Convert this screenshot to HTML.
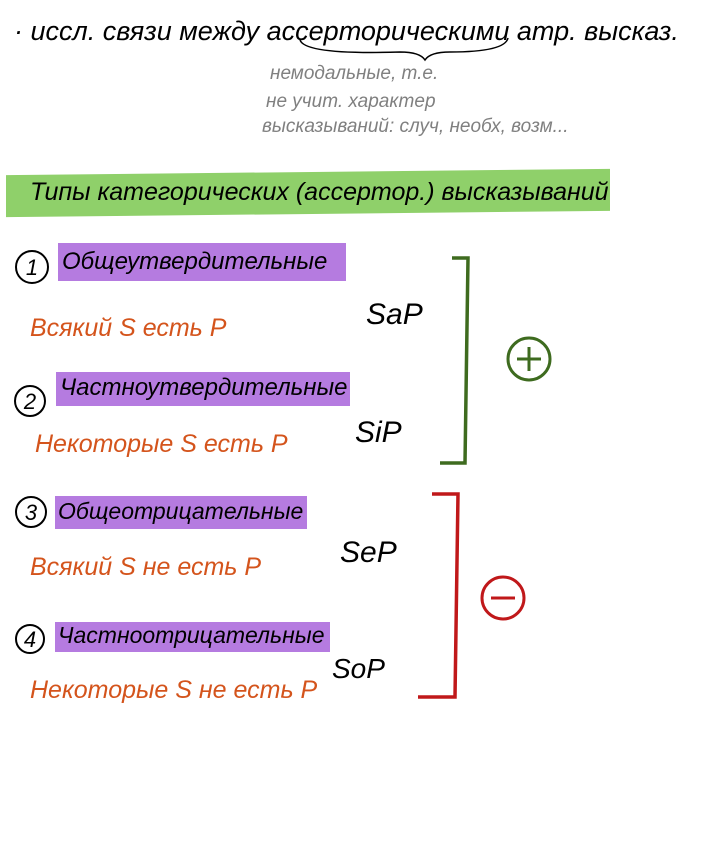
<!DOCTYPE html>
<html><head><meta charset="utf-8"><style>
html,body{margin:0;padding:0;background:#fff;}
body{width:718px;height:865px;position:relative;overflow:hidden;font-family:"Liberation Sans","DejaVu Sans",sans-serif;font-style:italic;}
.t{position:absolute;white-space:nowrap;line-height:1;}
.band{position:absolute;}
.o{color:#d4541c;font-size:25px;}
.k{color:#000;}
.g{color:#808080;font-size:19px;}
</style></head><body>
<div class="t k" style="left:14px;top:18px;font-size:27px;letter-spacing:0px;">· иссл. связи между ассерторическими атр. высказ.</div>
<div class="t g" style="left:270px;top:64px;">немодальные, т.е.</div>
<div class="t g" style="left:266px;top:92px;">не учит. характер</div>
<div class="t g" style="left:262px;top:117px;">высказываний: случ, необх, возм...</div>

<div class="band" style="left:6px;top:172px;width:604px;height:42px;background:#8fd06a;transform:skewY(-0.6deg);"></div>
<div class="t k" style="left:30px;top:180px;font-size:25px;">Типы категорических (ассертор.) высказываний</div>

<div class="band" style="left:58px;top:243px;width:288px;height:38px;background:#b57be0;"></div>
<div class="t k" style="left:62px;top:250px;font-size:24px;">Общеутвердительные</div>
<div class="band" style="left:56px;top:372px;width:294px;height:34px;background:#b57be0;"></div>
<div class="t k" style="left:60px;top:376px;font-size:24px;">Частноутвердительные</div>
<div class="band" style="left:55px;top:496px;width:252px;height:33px;background:#b57be0;"></div>
<div class="t k" style="left:58px;top:500px;font-size:23px;">Общеотрицательные</div>
<div class="band" style="left:55px;top:622px;width:275px;height:30px;background:#b57be0;"></div>
<div class="t k" style="left:58px;top:624px;font-size:23px;">Частноотрицательные</div>

<div class="t o" style="left:30px;top:316px;">Всякий S есть P</div>
<div class="t o" style="left:35px;top:432px;">Некоторые S есть P</div>
<div class="t o" style="left:30px;top:555px;">Всякий S не есть P</div>
<div class="t o" style="left:30px;top:678px;">Некоторые S не есть P</div>

<div class="t k" style="left:366px;top:300px;font-size:30px;">SaP</div>
<div class="t k" style="left:355px;top:418px;font-size:30px;">SiP</div>
<div class="t k" style="left:340px;top:538px;font-size:30px;">SeP</div>
<div class="t k" style="left:332px;top:655px;font-size:28px;">SoP</div>

<svg width="718" height="865" style="position:absolute;left:0;top:0;" xmlns="http://www.w3.org/2000/svg">
<g fill="none" stroke="#000" stroke-width="2">
<circle cx="32" cy="267" r="16"/><circle cx="30" cy="401" r="15"/>
<circle cx="31" cy="512" r="15"/><circle cx="30" cy="639" r="14"/>
</g>
<g font-family="Liberation Sans" font-size="22" fill="#000" text-anchor="middle">
<text x="32" y="275">1</text><text x="30" y="409">2</text><text x="31" y="520">3</text><text x="30" y="647">4</text>
</g>
<path d="M300 40 Q305 55 400 52 Q420 52 425 60 Q430 52 450 52 Q505 52 508 38" fill="none" stroke="#000" stroke-width="1.5"/>
<path d="M452 258 L468 258 L465 463 L440 463" fill="none" stroke="#3e6b1f" stroke-width="3.5"/>
<circle cx="529" cy="359" r="21" fill="none" stroke="#3e6b1f" stroke-width="3"/>
<path d="M517 359 H541 M529 347 V371" stroke="#3e6b1f" stroke-width="3"/>
<path d="M432 494 L458 494 L455 697 L418 697" fill="none" stroke="#c0181a" stroke-width="3.5"/>
<circle cx="503" cy="598" r="21" fill="none" stroke="#c0181a" stroke-width="3"/>
<path d="M491 598 H515" stroke="#c0181a" stroke-width="3"/>
</svg>
</body></html>
